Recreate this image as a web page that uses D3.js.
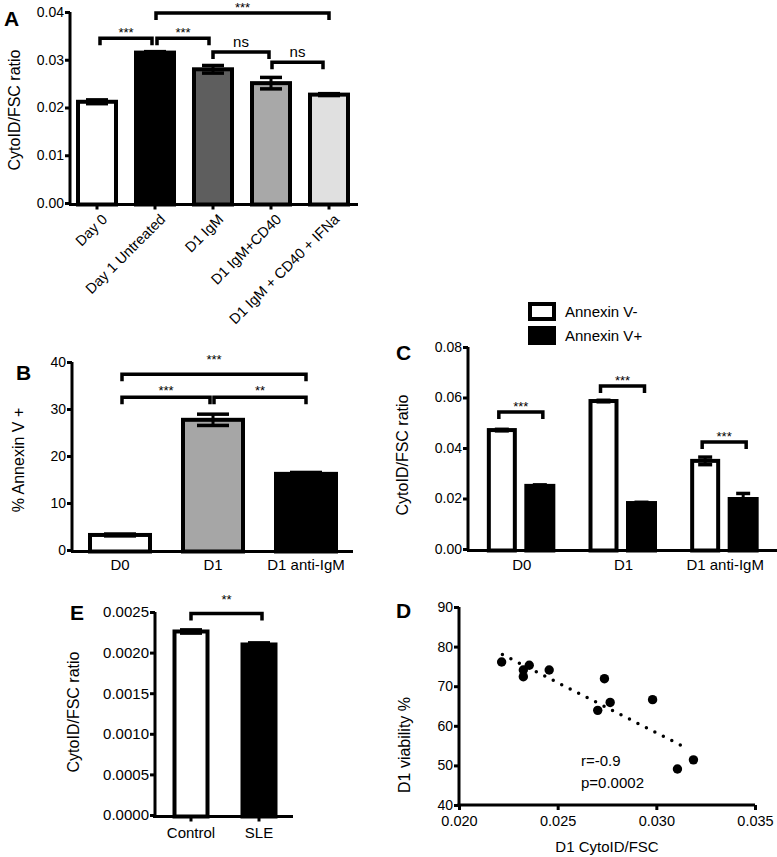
<!DOCTYPE html>
<html>
<head>
<meta charset="utf-8">
<script src="https://cdn.jsdelivr.net/npm/d3@7"></script>
<style>
  body { margin: 0; background: #fff; }
  svg { display: block; font-family: "Liberation Sans", Arial, Helvetica, sans-serif; }
  .axis path, .axis line { stroke: #000; }
  .axis text { fill: #000; }
</style>
</head>
<body>
<svg id="chart" width="777" height="857"></svg>
<script>
// ---------------- DATA ----------------
// Panel A
const aCategories = ["Day 0", "Day 1 Untreated", "D1 IgM", "D1 IgM+CD40", "D1 IgM + CD40 + IFNa"];
const aValues = [0.0212, 0.0315, 0.0280, 0.0251, 0.0227];
const aErrors = [0.0004, 0.0002, 0.0008, 0.0012, 0.0002];
const aTicks = [0.00, 0.01, 0.02, 0.03, 0.04];
const aBrackets = [
  { from: "Day 0", to: "Day 1 Untreated", level: 0.0345, label: "***" },
  { from: "Day 1 Untreated", to: "D1 IgM", level: 0.0345, label: "***" },
  { from: "D1 IgM", to: "D1 IgM+CD40", level: 0.0316, label: "ns" },
  { from: "D1 IgM+CD40", to: "D1 IgM + CD40 + IFNa", level: 0.0295, label: "ns" },
  { from: "Day 1 Untreated", to: "D1 IgM + CD40 + IFNa", level: 0.0398, label: "***" }
];

// Panel B
const bCategories = ["D0", "D1", "D1 anti-IgM"];
const bValues = [3.2, 27.7, 16.2];
const bErrors = [0.2, 1.2, 0.3];
const bTicks = [0, 10, 20, 30, 40];
const bBrackets = [
  { from: "D0", to: "D1", level: 32.5, label: "***" },
  { from: "D1", to: "D1 anti-IgM", level: 32.5, label: "**" },
  { from: "D0", to: "D1 anti-IgM", level: 37.4, label: "***" }
];

// Panel C
const cGroups = ["D0", "D1", "D1 anti-IgM"];
const cSeries = ["Annexin V-", "Annexin V+"];
const cNegValues = [0.0471, 0.0586, 0.0349];
const cNegErrors = [0.0003, 0.0003, 0.0015];
const cPosValues = [0.0250, 0.0182, 0.0198];
const cPosErrors = [0.0004, 0.0003, 0.0022];
const cTicks = [0.00, 0.02, 0.04, 0.06, 0.08];
const cBrackets = [
  { group: "D0", level: 0.0543, label: "***" },
  { group: "D1", level: 0.0646, label: "***" },
  { group: "D1 anti-IgM", level: 0.0424, label: "***" }
];

// Panel E
const eCategories = ["Control", "SLE"];
const eValues = [0.00226, 0.00210];
const eErrors = [0.00002, 0.00002];
const eTicks = [0.0000, 0.0005, 0.0010, 0.0015, 0.0020, 0.0025];
const eBrackets = [{ from: "Control", to: "SLE", level: 0.00248, label: "**" }];

// Panel D (scatter)
const dX = [0.02216, 0.02326, 0.02326, 0.02356, 0.02457, 0.02737, 0.02703, 0.02766, 0.02981, 0.03107, 0.03188];
const dY = [76.1, 72.4, 74.1, 75.3, 74.1, 71.9, 63.9, 65.9, 66.6, 49.1, 51.4];
const dTrendX = [0.0222, 0.0314];
const dTrendY = [78.0, 54.7];
const dXTicks = [0.020, 0.025, 0.030, 0.035];
const dYTicks = [40, 50, 60, 70, 80, 90];
const dStats = ["r=-0.9", "p=0.0002"];

// ---------------- STYLE ----------------
const aFills = ["#ffffff", "#000000", "#5e5e5e", "#a8a8a8", "#e0e0e0"];
const bFills = ["#ffffff", "#a6a6a6", "#000000"];
const cFills = ["#ffffff", "#000000"];
const eFills = ["#ffffff", "#000000"];
const BAR_STROKE = 4;

const svg = d3.select("#chart");

function styleAxis(g, opts) {
  g.attr("class", "axis");
  g.select(".domain").attr("stroke-width", 3);
  g.selectAll(".tick line").attr("stroke-width", 3);
  g.selectAll(".tick text").attr("font-size", opts.fontSize || 14);
}

function yAxis(y, x0, ticks, fmt, fs) {
  const g = svg.append("g").attr("transform", `translate(${x0},0)`)
    .call(d3.axisLeft(y).tickValues(ticks).tickFormat(fmt).tickSize(5).tickPadding(1).tickSizeOuter(0));
  styleAxis(g, { fontSize: fs });
  g.select(".domain").attr("d", `M0,${y.range()[0] + 1.5}V${y.range()[1]}`);
  return g;
}

function xAxisLine(yPix, x1, x2) {
  svg.append("line").attr("x1", x1).attr("x2", x2).attr("y1", yPix).attr("y2", yPix)
    .attr("stroke", "#000").attr("stroke-width", 3);
}

function xTicks(xs, yPix) {
  xs.forEach(x => svg.append("line").attr("x1", x).attr("x2", x).attr("y1", yPix).attr("y2", yPix + 5)
    .attr("stroke", "#000").attr("stroke-width", 3));
}

function bars(data, xFn, y, width, fills) {
  const g = svg.append("g");
  g.selectAll("rect").data(data).join("rect")
    .attr("x", d => xFn(d) - width / 2)
    .attr("y", d => y(d.v))
    .attr("width", width)
    .attr("height", d => y(0) - y(d.v) + 1.5)
    .attr("fill", (d, i) => fills[i])
    .attr("stroke", "#000")
    .attr("stroke-width", BAR_STROKE);
  return g;
}

function errorBars(data, xFn, y, capW) {
  const g = svg.append("g").attr("stroke", "#000");
  data.forEach(d => {
    const cx = xFn(d);
    const yt = y(d.v + d.e), yb = y(d.v - d.e);
    g.append("line").attr("x1", cx).attr("x2", cx).attr("y1", yt).attr("y2", yb).attr("stroke-width", 3);
    g.append("line").attr("x1", cx - capW / 2).attr("x2", cx + capW / 2).attr("y1", yt).attr("y2", yt).attr("stroke-width", 3.5);
    g.append("line").attr("x1", cx - capW / 2).attr("x2", cx + capW / 2).attr("y1", yb).attr("y2", yb).attr("stroke-width", 3.5);
  });
}

function bracket(x1, x2, yPix, label, labelOffset, tick) {
  svg.append("path")
    .attr("d", `M${x1},${yPix + tick}V${yPix}H${x2}V${yPix + tick}`)
    .attr("fill", "none").attr("stroke", "#000").attr("stroke-width", 3.5);
  const isStar = label.indexOf("*") >= 0;
  svg.append("text").attr("x", (x1 + x2) / 2).attr("y", yPix - labelOffset)
    .attr("text-anchor", "middle")
    .attr("font-size", isStar ? 13 : 15)
    .text(label);
}

function panelLetter(txt, x, y) {
  svg.append("text").attr("x", x).attr("y", y).attr("font-size", 21).attr("font-weight", "bold").text(txt);
}

function yTitle(txt, x, yc, fs) {
  svg.append("text").attr("transform", `translate(${x},${yc}) rotate(-90)`)
    .attr("text-anchor", "middle").attr("font-size", fs || 16).text(txt);
}

// ================= PANEL A =================
{
  const y = d3.scaleLinear().domain([0, 0.04]).range([203, 12]);
  const x = d3.scalePoint().domain(aCategories).range([68, 358]).padding(0.5);
  const data = aCategories.map((c, i) => ({ c, v: aValues[i], e: aErrors[i] }));
  bars(data, d => x(d.c), y, 38, aFills);
  errorBars(data, d => x(d.c), y, 22);
  xAxisLine(y(0) + 1.5, 69, 358);
  xTicks(aCategories.map(c => x(c)), y(0) + 1.5);
  yAxis(y, 70, aTicks, d3.format(".2f"), 14);
  aCategories.forEach(c => {
    svg.append("text").attr("transform", `translate(${x(c) + 4},${213}) rotate(-45)`)
      .attr("text-anchor", "end").attr("dy", "0.7em").attr("font-size", 14.5).text(c);
  });
  aBrackets.forEach((b, i) => {
    let x1 = x(b.from) + 3, x2 = x(b.to) - 3;
    if (i === 1) { x1 = x(b.from) + 2; x2 = x(b.to) - 4; }
    if (i === 2) { x1 = x(b.from); x2 = x(b.to) - 2; }
    if (i === 3) { x1 = x(b.from) + 1; x2 = x(b.to) - 6; }
    if (i === 4) { x1 = x(b.from) + 1; x2 = x(b.to); }
    const isStar = b.label.indexOf("*") >= 0;
    bracket(x1, x2, y(b.level), b.label, isStar ? 1 : 5, 7);
  });
  yTitle("CytoID/FSC ratio", 20, 110, 16);
  panelLetter("A", 4, 26);
}

// ================= PANEL B =================
{
  const y = d3.scaleLinear().domain([0, 40]).range([550, 362]);
  const x = d3.scalePoint().domain(bCategories).range([73.5, 352.5]).padding(0.5);
  const data = bCategories.map((c, i) => ({ c, v: bValues[i], e: bErrors[i] }));
  bars(data, d => x(d.c), y, 60, bFills);
  errorBars(data, d => x(d.c), y, 32);
  xAxisLine(y(0) + 1.5, 71, 353);
  yAxis(y, 72, bTicks, d3.format("d"), 14);
  bCategories.forEach(c => {
    svg.append("text").attr("x", x(c)).attr("y", 570).attr("text-anchor", "middle").attr("font-size", 15).text(c);
  });
  bBrackets.forEach((b, i) => {
    let x1 = x(b.from) + 2, x2 = x(b.to);
    if (i === 0) x2 = x(b.to) - 3;
    if (i === 1) x1 = x(b.from) + 1;
    bracket(x1, x2, y(b.level), b.label, i === 2 ? 10 : 2, 7);
  });
  yTitle("% Annexin V +", 24, 460, 16);
  panelLetter("B", 16, 380);
}

// ================= PANEL C =================
{
  const y = d3.scaleLinear().domain([0, 0.08]).range([549, 347]);
  const x0 = d3.scaleBand().domain(cGroups).range([470, 775]);
  const x1 = d3.scaleBand().domain(cSeries).range([-38, 38]);
  const neg = cGroups.map((g, i) => ({ g, s: cSeries[0], v: cNegValues[i], e: cNegErrors[i] }));
  const pos = cGroups.map((g, i) => ({ g, s: cSeries[1], v: cPosValues[i], e: cPosErrors[i] }));
  const cx = d => x0(d.g) + x0.bandwidth() / 2 + x1(d.s) + x1.bandwidth() / 2;
  bars(neg, cx, y, 26, neg.map(() => cFills[0]));
  errorBars(neg, cx, y, 14);
  bars(pos, cx, y, 27, pos.map(() => cFills[1]));
  errorBars(pos, cx, y, 14);
  xAxisLine(y(0) + 1.5, 467, 777);
  yAxis(y, 468, cTicks, d3.format(".2f"), 14);
  cGroups.forEach(g => {
    svg.append("text").attr("x", x0(g) + x0.bandwidth() / 2 + 1).attr("y", 570).attr("text-anchor", "middle").attr("font-size", 15).text(g);
  });
  cBrackets.forEach(b => {
    const xa = cx({ g: b.group, s: cSeries[0] }) - 3;
    const xb = cx({ g: b.group, s: cSeries[1] }) + 3;
    bracket(xa, xb, y(b.level), b.label, 1, 7);
  });
  yTitle("CytoID/FSC ratio", 408, 455, 16);
  panelLetter("C", 396, 360);
  // legend
  const lg = svg.append("g");
  cSeries.forEach((s, i) => {
    lg.append("rect").attr("x", 530).attr("y", 304 + i * 24).attr("width", 24).attr("height", 15)
      .attr("fill", cFills[i]).attr("stroke", "#000").attr("stroke-width", 4);
    lg.append("text").attr("x", 565).attr("y", 317 + i * 24).attr("font-size", 15).text(s);
  });
}

// ================= PANEL E =================
{
  const y = d3.scaleLinear().domain([0, 0.0025]).range([815, 612]);
  const x = d3.scalePoint().domain(eCategories).range([157, 293]).padding(0.5);
  const data = eCategories.map((c, i) => ({ c, v: eValues[i], e: eErrors[i] }));
  bars(data, d => x(d.c), y, 33, eFills);
  errorBars(data, d => x(d.c), y, 22);
  xAxisLine(y(0) + 1.5, 153, 293);
  xTicks(eCategories.map(c => x(c)), y(0) + 1.5);
  yAxis(y, 155, eTicks, d3.format(".4f"), 15);
  eCategories.forEach(c => {
    svg.append("text").attr("x", x(c)).attr("y", 838).attr("text-anchor", "middle").attr("font-size", 15).text(c);
  });
  eBrackets.forEach(b => bracket(x(b.from), x(b.to) + 3, y(b.level), b.label, 10, 7));
  yTitle("CytoID/FSC ratio", 79, 712, 16);
  panelLetter("E", 70, 620);
}

// ================= PANEL D =================
{
  const x = d3.scaleLinear().domain([0.020, 0.035]).range([459, 755]);
  const y = d3.scaleLinear().domain([40, 90]).range([805, 607]);
  const gx = svg.append("g").attr("transform", `translate(0,${y(40)})`)
    .call(d3.axisBottom(x).tickValues(dXTicks).tickFormat(d3.format(".3f")).tickSize(5).tickPadding(6).tickSizeOuter(0));
  styleAxis(gx, { fontSize: 14.5 });
  gx.select(".domain").attr("d", `M${x(0.020) - 1.5},0H${x(0.035)}`);
  yAxis(y, 459, dYTicks, d3.format("d"), 14);
  svg.append("path")
    .attr("d", d3.line()(dTrendX.map((v, i) => [x(v), y(dTrendY[i])])))
    .attr("stroke", "#000").attr("stroke-width", 3.5).attr("stroke-linecap", "round")
    .attr("stroke-dasharray", "0,9.5").attr("fill", "none");
  svg.append("g").selectAll("circle").data(dX).join("circle")
    .attr("cx", d => x(d)).attr("cy", (d, i) => y(dY[i])).attr("r", 4.7).attr("fill", "#000");
  dStats.forEach((s, i) => {
    svg.append("text").attr("x", 581).attr("y", 766 + i * 22).attr("font-size", 15).text(s);
  });
  svg.append("text").attr("x", 607).attr("y", 852).attr("text-anchor", "middle").attr("font-size", 15).text("D1 CytoID/FSC");
  yTitle("D1 viability %", 410, 745, 16);
  panelLetter("D", 396, 618);
}
</script>
</body>
</html>
